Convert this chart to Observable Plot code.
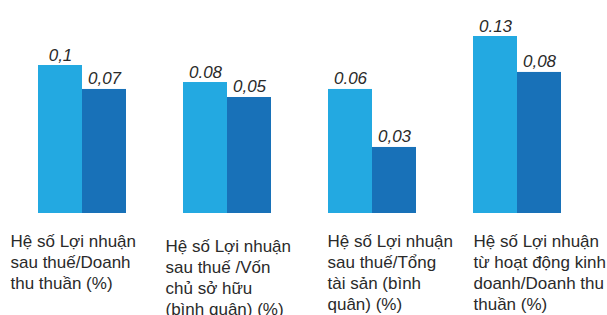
<!DOCTYPE html>
<html>
<head>
<meta charset="utf-8">
<script src="https://cdn.jsdelivr.net/npm/d3@7"></script>
<script src="https://cdn.jsdelivr.net/npm/@observablehq/plot@0.6"></script>
<style>
  html, body { margin: 0; padding: 0; background: #fff; }
  #chart svg { display: block; }
</style>
</head>
<body>
<div id="chart"></div>
<script>
// Data (bar heights; printed labels as shown)
const categories = ["c1", "c2", "c3", "c4"];
const categoryLabels = [
  "Hệ số Lợi nhuận\nsau thuế/Doanh\nthu thuần (%)",
  "Hệ số Lợi nhuận\nsau thuế /Vốn\nchủ sở hữu\n(bình quân) (%)",
  "Hệ số Lợi nhuận\nsau thuế/Tổng\ntài sản (bình\nquân) (%)",
  "Hệ số Lợi nhuận\ntừ hoạt động kinh\ndoanh/Doanh thu\nthuần (%)"
];
const series = ["s1", "s2"];
const valuesLight = [0.1087, 0.0962, 0.0911, 0.13];
const valuesDark = [0.0911, 0.0852, 0.0485, 0.1036];
const labelsLight = ["0,1", "0.08", "0.06", "0.13"];
const labelsDark = ["0,07", "0,05", "0,03", "0,08"];

const rows = [];
categories.forEach((c, i) => {
  rows.push({cat: c, s: series[0], v: valuesLight[i], label: labelsLight[i]});
  rows.push({cat: c, s: series[1], v: valuesDark[i], label: labelsDark[i]});
});

const font = "Liberation Sans, Arial, sans-serif";
const labelShift = [-28, -18, -1, 0];
const labelDrop = [19, 24, 19, 19];

const catMarks = categories.map((c, i) =>
  Plot.text([{cat: c, text: categoryLabels[i]}], {
    fx: "cat",
    text: "text",
    frameAnchor: "bottom-left",
    textAnchor: "start",
    lineAnchor: "top",
    lineHeight: 1.235,
    dx: labelShift[i],
    dy: labelDrop[i],
    fontSize: 17,
    fill: "#2a2a2a"
  })
);

const chart = Plot.plot({
  width: 607,
  height: 315,
  marginTop: 36,
  marginBottom: 102,
  marginLeft: 37,
  marginRight: 45,
  style: {fontFamily: font, background: "#fff"},
  fx: {domain: categories, axis: null, paddingInner: 0.39, paddingOuter: 0},
  x: {domain: series, axis: null, padding: 0},
  y: {domain: [0, 0.13], axis: null},
  color: {domain: series, range: ["#23a9e1", "#1871b8"]},
  marks: [
    Plot.barY(rows, {fx: "cat", x: "s", y: "v", fill: "s"}),
    Plot.text(rows, {
      fx: "cat", x: "s", y: "v", text: "label",
      lineAnchor: "bottom", dy: -5,
      fontSize: 17, fontStyle: "italic", fill: "#2a2a2a"
    }),
    ...catMarks
  ]
});
document.getElementById("chart").appendChild(chart);
</script>
</body>
</html>
